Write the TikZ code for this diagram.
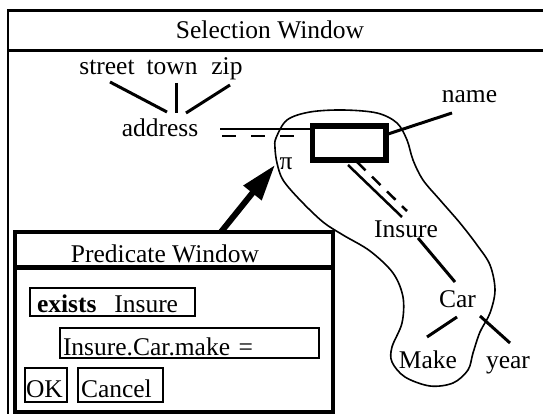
\documentclass[tikz,border=0pt]{standalone}
\usepackage{fontspec}
\setmainfont{Liberation Serif}
\usetikzlibrary{arrows.meta}
\begin{document}
\begin{tikzpicture}[x=1pt,y=-1pt,
  lbl/.style={inner sep=0pt, anchor=base, font=\fontsize{25.5}{29}\selectfont},
  fbox/.style={draw, line width=2pt, align=left, text height=24pt, text depth=0pt,
    font=\fontsize{25.5}{29}\selectfont, inner ysep=0pt},
  conn/.style={line width=3pt},
  thinln/.style={line width=1.8pt},
  dashln/.style={line width=2.5pt, dash pattern=on 14pt off 15pt},
  frame/.style={line width=2.7pt}]
\useasboundingbox (0,0) rectangle (543,414);
\clip (0,0) rectangle (543,414);

% Selection window frame
\draw[frame] (8,430) -- (8,10.7) -- (560,10.7);
\draw[frame] (8,50.5) -- (560,50.5);
\node[lbl] (selt) at (270,39) {Selection Window};

% schema labels
\node[lbl] (street) at (107,75) {street};
\node[lbl] (town) at (172,75) {town};
\node[lbl] (zip) at (227,75) {zip};
\node[lbl] (address) at (160,137) {address};
\node[lbl] (name) at (469.5,103) {name};
\node[lbl] (pi) at (286,170) {π};
\node[lbl] (insure) at (406,237) {Insure};
\node[lbl] (car) at (457.5,307) {Car};
\node[lbl] (make) at (428,368) {Make};
\node[lbl] (year) at (508,368) {year};

% selected relation box
\node[draw, line width=5.5pt, minimum width=73.5, minimum height=34, inner sep=0pt] (rel) at (349,143) {};

% connector end points
\coordinate (st1) at (110,82);  \coordinate (ad1) at (167,112);
\coordinate (to1) at (176,83);  \coordinate (ad2) at (176,113);
\coordinate (zi1) at (230,85);  \coordinate (ad3) at (186,113);
\coordinate (ad4) at (220,129); \coordinate (re1) at (312,129);
\coordinate (ad5) at (222,136); \coordinate (re2) at (296,136);
\coordinate (re3) at (388,134); \coordinate (na1) at (452,113);
\coordinate (re4) at (348,165); \coordinate (in1) at (402,217);
\coordinate (re5) at (357,162); \coordinate (in2) at (407,211);
\coordinate (in3) at (418,238); \coordinate (ca1) at (455,282);
\coordinate (ca2) at (457,317); \coordinate (ma1) at (427,337);
\coordinate (ca3) at (480,316); \coordinate (ye1) at (510,343);

\draw[conn] (st1) -- (ad1);
\draw[conn] (to1) -- (ad2);
\draw[conn] (zi1) -- (ad3);
\draw[thinln] (ad4) -- (re1);
\draw[dashln] (ad5) -- (re2);
\draw[conn] (re3) -- (na1);
\draw[line width=2.5pt] (re4) -- (in1);
\draw[line width=2.5pt, dash pattern=on 12pt off 9pt] (re5) -- (in2);
\draw[conn] (in3) -- (ca1);
\draw[conn] (ca2) -- (ma1);
\draw[conn] (ca3) -- (ye1);

% enclosing blob
\draw[line width=1.6pt] plot[smooth cycle, tension=0.55] coordinates {
 (276,138) (287,120) (310,112) (343,110) (377,113) (397,123) (407,140)
 (413,160) (423,180) (440,200) (460,223) (477,245) (490,265) (495,290)
 (490,313) (480,332) (473,353) (468,370) (453,383) (430,386) (405,377)
 (392,362) (392,347) (402,323) (403,297) (393,273) (370,251) (343,235)
 (323,222) (300,200) (283,180) (277,163) (275,148)};

% Predicate window
\node[draw, line width=4pt, minimum width=318.5, minimum height=179.5, inner sep=0pt, fill=white] (pw) at (173.75,321.75) {};
\draw[line width=5pt] (14.5,267.5) -- (333,267.5);
\node[lbl] (pwt) at (165,262) {Predicate Window};

\node[fbox, text width=151pt, inner xsep=7pt, text height=20pt, minimum height=28] (exb) at (112.5,302) {\textbf{exists}\hspace{0.7em}Insure};
\node[fbox, text width=253pt, inner xsep=3pt, minimum height=30] (icm) at (189.5,343) {Insure.Car.make =};
\node[fbox, text width=40pt, inner xsep=1pt, minimum height=34] (okb) at (46,385) {OK};
\node[fbox, text width=79pt, inner xsep=3pt, minimum height=34] (cab) at (120.5,385) {Cancel};

% arrow from predicate window to pi
\coordinate (pws) at (221,232);
\coordinate (pit) at (275,165);
\draw[line width=6pt, -{Triangle[length=36pt,width=22pt]}] (pws) -- (pit);
\end{tikzpicture}
\end{document}
